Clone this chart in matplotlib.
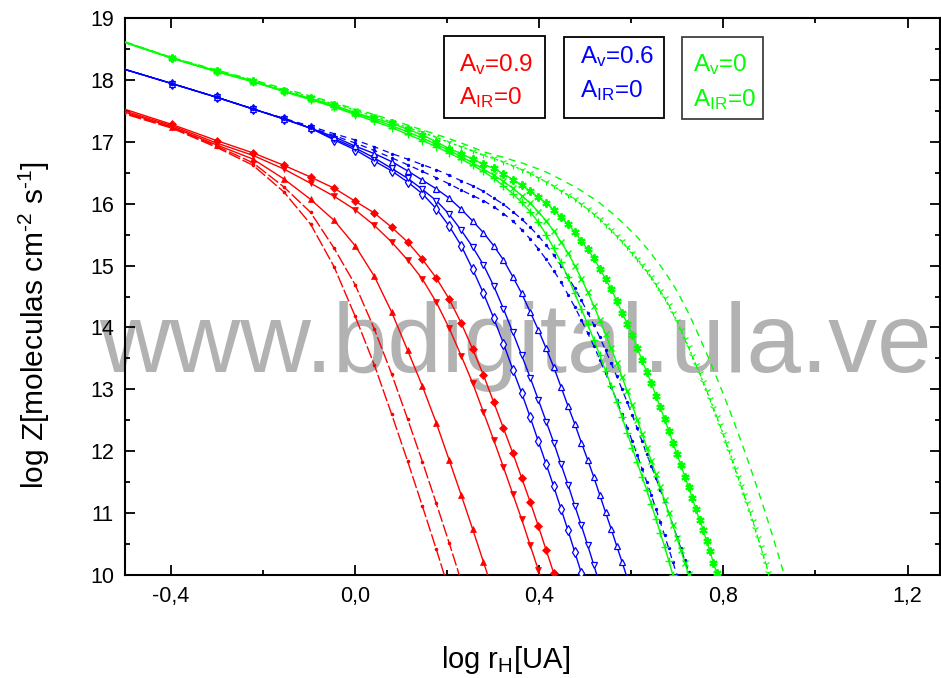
import numpy as np
import matplotlib
matplotlib.use("Agg")
import matplotlib.pyplot as plt
from matplotlib.patches import Rectangle
from matplotlib.ticker import FuncFormatter

plt.rcParams['font.family'] = ['Liberation Sans', 'DejaVu Sans']
plt.rcParams['mathtext.default'] = 'regular'

# heliocentric distance grid r [UA]
r_grid = [0.3, 0.4, 0.5, 0.6, 0.7, 0.8, 0.9, 1.0, 1.1, 1.2, 1.3, 1.4, 1.5, 1.6, 1.7,
          1.8, 1.9, 2.0, 2.1, 2.2, 2.3, 2.4, 2.5, 2.6, 2.7, 2.8, 2.9, 3.0, 3.1, 3.2,
          3.3, 3.4, 3.5, 3.6, 3.7, 3.8, 3.9, 4.0, 4.1, 4.2, 4.3, 4.4, 4.5, 4.6, 4.7,
          4.8, 4.9, 5.0, 5.1, 5.2, 5.3, 5.4, 5.5, 5.6, 5.7, 5.8, 5.9, 6.0, 6.1, 6.2,
          6.3, 6.4, 6.5, 6.6, 6.7, 6.8, 6.9, 7.0, 7.1, 7.2, 7.3, 7.4, 7.5, 7.6, 7.7,
          7.8, 7.9, 8.0, 8.1, 8.2, 8.3, 8.4, 8.5, 8.6]

# ---- Av = 0.9 (red) ----
red_dot1 = [17.50, 17.22, 16.91, 16.62, 16.19, 15.67, 14.98, 14.18, 13.40, 12.60, 11.84,
            11.11, 10.42, 9.75]
red_dot2 = [17.52, 17.23, 16.93, 16.66, 16.27, 15.86, 15.28, 14.69, 13.98, 13.25, 12.52,
            11.83, 11.16, 10.52, 9.90]
red_up = [17.53, 17.24, 16.95, 16.72, 16.40, 16.07, 15.73, 15.32, 14.83, 14.25, 13.63,
          13.05, 12.46, 11.86, 11.29, 10.74, 10.21, 9.70]
red_down = [17.55, 17.26, 16.98, 16.78, 16.56, 16.33, 16.12, 15.90, 15.65, 15.38, 15.09,
            14.78, 14.41, 13.99, 13.54, 13.10, 12.63, 12.18, 11.74, 11.31, 10.90, 10.48,
            10.08, 9.68]
red_diam = [17.58, 17.28, 17.02, 16.82, 16.62, 16.43, 16.25, 16.04, 15.85, 15.62, 15.38,
            15.10, 14.80, 14.46, 14.07, 13.65, 13.23, 12.79, 12.37, 11.97, 11.57, 11.18,
            10.79, 10.40, 10.03, 9.65]

# ---- Av = 0.6 (blue) ----
blue_diam = [18.22, 17.94, 17.72, 17.53, 17.37, 17.22, 17.03, 16.87, 16.69, 16.53, 16.35,
             16.16, 15.92, 15.64, 15.32, 14.94, 14.55, 14.15, 13.74, 13.32, 12.94, 12.55,
             12.16, 11.79, 11.43, 11.07, 10.72, 10.37, 10.03, 9.70]
blue_down = [18.22, 17.94, 17.72, 17.53, 17.37, 17.22, 17.05, 16.90, 16.74, 16.57, 16.41,
             16.23, 16.05, 15.83, 15.57, 15.30, 15.01, 14.67, 14.30, 13.92, 13.55, 13.19,
             12.83, 12.48, 12.14, 11.79, 11.46, 11.12, 10.80, 10.48, 10.16, 9.84]
blue_up = [18.22, 17.94, 17.72, 17.53, 17.37, 17.22, 17.08, 16.93, 16.81, 16.68, 16.53,
           16.38, 16.24, 16.09, 15.91, 15.72, 15.53, 15.32, 15.09, 14.82, 14.55, 14.25,
           13.96, 13.66, 13.36, 13.04, 12.73, 12.44, 12.14, 11.86, 11.58, 11.29, 11.01,
           10.74, 10.47, 10.21, 9.95]
blue_dashA = [18.22, 17.94, 17.72, 17.53, 17.37, 17.23, 17.10, 16.98, 16.86, 16.74, 16.63,
              16.52, 16.42, 16.32, 16.22, 16.13, 16.05, 15.95, 15.84, 15.72, 15.58, 15.43,
              15.27, 15.10, 14.92, 14.73, 14.53, 14.33, 14.12, 13.91, 13.70, 13.48, 13.26,
              13.04, 12.82, 12.60, 12.38, 12.16, 11.94, 11.72, 11.50, 11.29, 11.07, 10.86,
              10.64, 10.43, 10.21, 10.00, 9.79]
blue_dashB = [18.22, 17.94, 17.72, 17.53, 17.38, 17.25, 17.13, 17.03, 16.92, 16.81, 16.72,
              16.63, 16.55, 16.46, 16.37, 16.29, 16.20, 16.09, 15.99, 15.87, 15.75, 15.62,
              15.48, 15.33, 15.17, 15.00, 14.82, 14.63, 14.44, 14.24, 14.04, 13.84, 13.63,
              13.42, 13.21, 13.00, 12.79, 12.58, 12.37, 12.16, 11.95, 11.76, 11.57, 11.38,
              11.19, 11.00, 10.81, 10.62, 10.43, 10.24, 10.05, 9.86]

# ---- Av = 0 (green) ----
green_plus = [18.66, 18.35, 18.13, 17.97, 17.81, 17.68, 17.56, 17.44, 17.33, 17.23, 17.12,
              17.02, 16.92, 16.82, 16.72, 16.62, 16.52, 16.41, 16.29, 16.16, 16.02, 15.87,
              15.70, 15.50, 15.28, 15.05, 14.81, 14.55, 14.30, 14.05, 13.80, 13.55, 13.30,
              13.05, 12.80, 12.55, 12.30, 12.05, 11.82, 11.59, 11.37, 11.14, 10.91, 10.68,
              10.46, 10.23, 10.00, 9.77]
green_x = [18.66, 18.35, 18.14, 17.97, 17.82, 17.69, 17.57, 17.46, 17.36, 17.26, 17.16,
           17.06, 16.96, 16.86, 16.76, 16.66, 16.56, 16.46, 16.36, 16.25, 16.13, 16.01,
           15.87, 15.72, 15.56, 15.38, 15.20, 15.00, 14.79, 14.57, 14.35, 14.12, 13.89,
           13.66, 13.43, 13.20, 12.97, 12.74, 12.51, 12.28, 12.06, 11.84, 11.63, 11.42,
           11.21, 11.00, 10.80, 10.60, 10.40, 10.20, 10.01, 9.82]
green_ast = [18.67, 18.35, 18.14, 17.98, 17.82, 17.70, 17.59, 17.47, 17.38, 17.30, 17.20,
             17.11, 17.00, 16.89, 16.81, 16.72, 16.64, 16.57, 16.48, 16.39, 16.30, 16.20,
             16.10, 16.01, 15.90, 15.78, 15.67, 15.54, 15.40, 15.26, 15.12, 14.95, 14.78,
             14.62, 14.43, 14.24, 14.06, 13.88, 13.67, 13.47, 13.28, 13.10, 12.90, 12.71,
             12.52, 12.33, 12.14, 11.95, 11.78, 11.59, 11.42, 11.24, 11.06, 10.89, 10.73,
             10.55, 10.38, 10.20, 10.04, 9.87]
green_dot = [18.67, 18.36, 18.15, 17.99, 17.84, 17.72, 17.61, 17.51, 17.41, 17.32, 17.23,
             17.15, 17.07, 16.99, 16.92, 16.85, 16.78, 16.73, 16.67, 16.61, 16.55, 16.49,
             16.42, 16.35, 16.28, 16.21, 16.14, 16.07, 15.99, 15.91, 15.83, 15.75, 15.66,
             15.57, 15.48, 15.39, 15.30, 15.21, 15.11, 15.01, 14.91, 14.81, 14.70, 14.59,
             14.48, 14.36, 14.23, 14.10, 13.96, 13.82, 13.68, 13.54, 13.40, 13.26, 13.12,
             12.98, 12.84, 12.70, 12.56, 12.42, 12.28, 12.14, 12.00, 11.86, 11.72, 11.58,
             11.44, 11.30, 11.16, 11.02, 10.88, 10.74, 10.60, 10.46, 10.32, 10.18, 10.04,
             9.90]
green_dash = [18.67, 18.36, 18.16, 18.00, 17.86, 17.74, 17.63, 17.53, 17.44, 17.35, 17.27,
              17.19, 17.12, 17.05, 16.98, 16.91, 16.84, 16.79, 16.75, 16.70, 16.66, 16.61,
              16.56, 16.51, 16.45, 16.39, 16.33, 16.27, 16.21, 16.14, 16.08, 16.01, 15.93,
              15.86, 15.78, 15.70, 15.62, 15.54, 15.46, 15.37, 15.28, 15.19, 15.09, 15.00,
              14.90, 14.80, 14.70, 14.59, 14.47, 14.35, 14.23, 14.10, 13.97, 13.84, 13.71,
              13.58, 13.45, 13.32, 13.19, 13.06, 12.93, 12.80, 12.67, 12.54, 12.41, 12.28,
              12.15, 12.02, 11.89, 11.76, 11.63, 11.50, 11.37, 11.24, 11.11, 10.98, 10.85,
              10.72, 10.59, 10.46, 10.33, 10.20, 10.07, 9.94]

RED, BLUE, GREEN = '#ff0000', '#0000ff', '#00ff00'

W, H = 941, 678
fig = plt.figure(figsize=(W / 100, H / 100), dpi=100)
ax = fig.add_axes([125 / W, 1 - 575 / H, (940 - 125) / W, (575 - 18) / H])


def curve(y, color, lw=1.0, **kw):
    x = np.log10(r_grid[:len(y)])
    ax.plot(x, y, color=color, lw=lw, zorder=3, **kw)


# red group
curve(red_dot1, RED, ls=(0, (9, 2)), marker='o', ms=1.6)
curve(red_dot2, RED, ls=(0, (9, 2)), marker='o', ms=1.6)
curve(red_up, RED, marker='^', ms=5, mew=0.5)
curve(red_down, RED, marker='v', ms=5, mew=0.5)
curve(red_diam, RED, marker='D', ms=4, mew=0.5)

# blue group
curve(blue_diam, BLUE, marker='d', ms=5.5, mfc='white', mew=0.9)
curve(blue_down, BLUE, marker='v', ms=5, mfc='white', mew=0.9)
curve(blue_up, BLUE, marker='^', ms=5, mfc='white', mew=0.9)
curve(blue_dashA, BLUE, lw=0.9, ls=(0, (5, 4)), marker='o', ms=1.4)
curve(blue_dashB, BLUE, lw=0.9, ls=(0, (5, 4)), marker='o', ms=1.4)

# green group
curve(green_dash, GREEN, ls=(0, (5, 4)))
curve(green_dot, GREEN, ls=(0, (2, 2)), marker='1', ms=5, mew=0.8)
curve(green_plus, GREEN, marker='+', ms=6, mew=1.0)
curve(green_x, GREEN, marker='x', ms=5, mew=1.0)
curve(green_ast, GREEN, marker=(6, 2, 0), ms=6, mew=1.4)

ax.set_xlim(-0.5, 1.2705)
ax.set_ylim(10, 19)
ax.set_xticks([-0.4, 0.0, 0.4, 0.8, 1.2])
ax.set_xticks([-0.2, 0.2, 0.6, 1.0], minor=True)
ax.set_yticks(range(10, 20))
ax.set_yticks(np.arange(10.5, 19, 1.0), minor=True)
ax.xaxis.set_major_formatter(FuncFormatter(lambda v, p: f"{v:.1f}".replace('.', ',')))

ax.tick_params(which='both', direction='in', top=True, right=True, width=1.3,
               labelsize=15.5)
ax.tick_params(which='major', length=7)
ax.tick_params(which='minor', length=3.5)
ax.tick_params(axis='x', pad=8)
ax.tick_params(axis='y', pad=8)
for s in ax.spines.values():
    s.set_linewidth(1.5)


def px(x, y):
    return x / W, 1 - y / H


# watermark, behind the curves
ax.text(*px(515, 372), 'www.bdigital.ula.ve', transform=fig.transFigure,
        fontsize=70.5, color='#b2b2b2', ha='center', va='baseline', zorder=1,
        clip_on=False)

# legend boxes
boxes = [((444, 36, 545, 118), '#000000', RED, ('A$_v$=0.9', 459, 71), ('A$_{IR}$=0', 459, 104)),
         ((564, 37, 664, 118), '#000000', BLUE, ('A$_v$=0.6', 580, 63), ('A$_{IR}$=0', 580, 97)),
         ((682, 37, 763, 119), '#404040', GREEN, ('A$_v$=0', 693, 71), ('A$_{IR}$=0', 693, 106))]
for (x0, y0, x1, y1), ec, tc, l1, l2 in boxes:
    fig.patches.append(Rectangle(px(x0, y1), (x1 - x0) / W, (y1 - y0) / H,
                                 transform=fig.transFigure, fill=False, ec=ec, lw=1.3))
    for txt, tx, ty in (l1, l2):
        fig.text(*px(tx, ty), txt, color=tc, fontsize=17.5, ha='left', va='baseline')

# axis labels
fig.text(*px(506, 660), 'log r$_H$[UA]', fontsize=21, ha='center', va='center')
fig.text(*px(34, 325), 'log Z[moleculas cm$^{\u2010 2}$ s$^{\u2010 1}$]', fontsize=21.5,
         rotation=90, ha='center', va='center')

fig.savefig('out.png', dpi=100)
